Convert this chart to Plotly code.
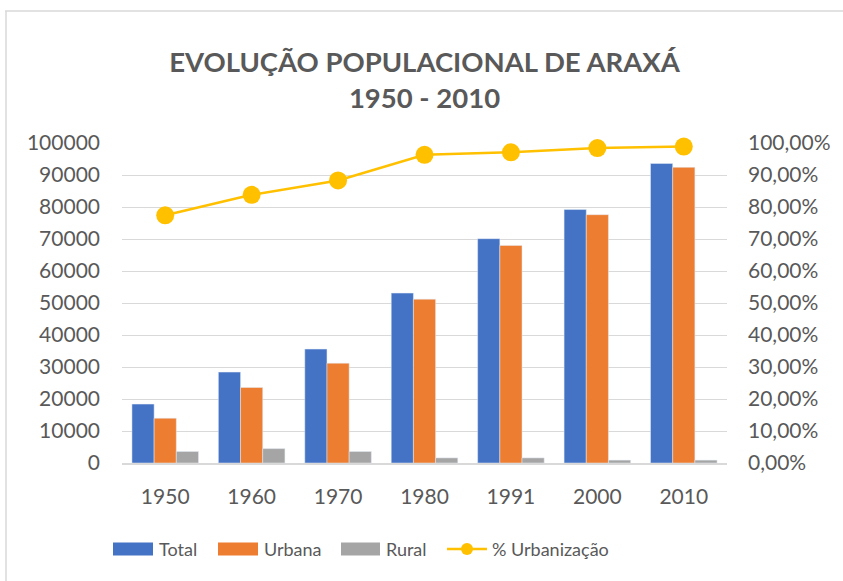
import plotly.graph_objects as go

years = ["1950", "1960", "1970", "1980", "1991", "2000", "2010"]
total = [18400, 28400, 35600, 53100, 70100, 79200, 93600]
urbana = [14000, 23600, 31200, 51200, 68000, 77600, 92400]
rural = [3600, 4500, 3600, 1600, 1600, 900, 900]
urbanizacao = [0.774, 0.838, 0.883, 0.963, 0.971, 0.984, 0.989]

title_text = "EVOLUÇÃO POPULACIONAL DE ARAXÁ<br>1950 - 2010"
legend_names = ["Total", "Urbana", "Rural", "% Urbanização"]

BLUE = "#4472C4"
ORANGE = "#ED7D31"
GRAY = "#A5A5A5"
YELLOW = "#FFC000"
TXT = "#595959"
FONT = "Lato"

W, H = 843, 581
L, R, T, B = 122, 727, 143, 463


def px(x):
    return (x - L) / (R - L)


def py(y):
    return (B - y) / (B - T)


fig = go.Figure()
fig.add_trace(go.Bar(x=years, y=total, name=legend_names[0], marker_color=BLUE, showlegend=False))
fig.add_trace(go.Bar(x=years, y=urbana, name=legend_names[1], marker_color=ORANGE, showlegend=False))
fig.add_trace(go.Bar(x=years, y=rural, name=legend_names[2], marker_color=GRAY, showlegend=False))
fig.add_trace(go.Scatter(x=years, y=urbanizacao, name=legend_names[3], yaxis="y2",
                         mode="lines+markers", line=dict(color=YELLOW, width=2.5),
                         marker=dict(color=YELLOW, size=18), cliponaxis=False, showlegend=False))

shapes = []
annotations = []
# frame
shapes.append(dict(type="line", xref="paper", yref="paper", x0=px(5), x1=px(850), y0=py(11), y1=py(11),
                   line=dict(color="#D9D9D9", width=1.5)))
shapes.append(dict(type="line", xref="paper", yref="paper", x0=px(6), x1=px(6), y0=py(11), y1=py(590),
                   line=dict(color="#D9D9D9", width=1.5)))

# custom legend
leg_y = 549
LEG_SIZE = 18
items = [
    (113, 153, 157, BLUE, legend_names[0]),
    (218, 258, 262, ORANGE, legend_names[1]),
    (341, 380, 384, GRAY, legend_names[2]),
]
for x0, x1, tx, col, name in items:
    shapes.append(dict(type="rect", xref="paper", yref="paper", x0=px(x0), x1=px(x1),
                       y0=py(leg_y + 6.5), y1=py(leg_y - 6.5), fillcolor=col, line=dict(width=0)))
    annotations.append(dict(text=name, xref="paper", yref="paper", x=px(tx), y=py(leg_y),
                            xanchor="left", yanchor="middle", showarrow=False,
                            font=dict(family=FONT, size=LEG_SIZE, color=TXT)))
shapes.append(dict(type="line", xref="paper", yref="paper", x0=px(447), x1=px(487),
                   y0=py(leg_y), y1=py(leg_y), line=dict(color=YELLOW, width=2.5)))
shapes.append(dict(type="circle", xref="paper", yref="paper", x0=px(461), x1=px(473),
                   y0=py(leg_y + 6), y1=py(leg_y - 6), fillcolor=YELLOW, line=dict(width=0)))
annotations.append(dict(text=legend_names[3], xref="paper", yref="paper", x=px(490), y=py(leg_y),
                        xanchor="left", yanchor="middle", showarrow=False,
                        font=dict(family=FONT, size=LEG_SIZE, color=TXT)))

fig.update_layout(
    width=W, height=H, autosize=False,
    margin=dict(l=L, r=W - R, t=T, b=H - B),
    paper_bgcolor="white", plot_bgcolor="white",
    separators=",.",
    barmode="group", bargap=0.23, bargroupgap=0,
    title=dict(text=title_text, x=0.5, xanchor="center", xref="paper", y=1 - 72 / H, yanchor="middle",
               font=dict(family=FONT, size=27.5, color=TXT, weight="bold")),
    font=dict(family=FONT, size=21, color=TXT),
    xaxis=dict(showgrid=False, showline=True, linecolor="#D9D9D9", linewidth=1.5,
               ticks="", tickfont=dict(size=21, color=TXT), ticklabelstandoff=14),
    yaxis=dict(range=[0, 100000], dtick=10000, tickformat="d", showgrid=True, gridcolor="#D9D9D9",
               gridwidth=1.3, zeroline=False, showline=False, ticks="", ticklabelstandoff=21,
               tickfont=dict(size=21, color=TXT)),
    yaxis2=dict(range=[0, 1], dtick=0.1, tickformat=".2%", overlaying="y", side="right",
                showgrid=False, zeroline=False, showline=False, ticks="", ticklabelstandoff=20,
                tickfont=dict(size=21, color=TXT)),
    shapes=shapes, annotations=annotations,
)

fig.write_html("out.html", config={"displayModeBar": False},
               post_script="document.body.style.margin='0';document.body.style.overflow='hidden';")
